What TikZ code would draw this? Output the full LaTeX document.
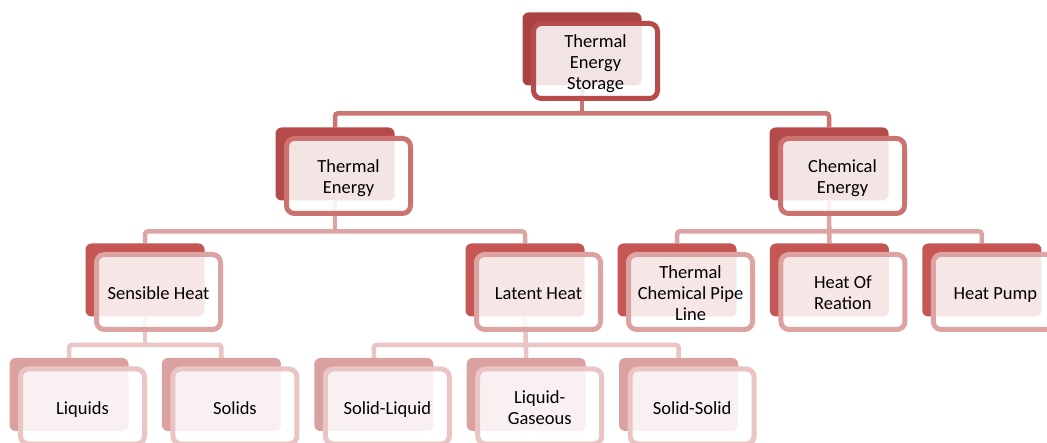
\documentclass[tikz,border=0pt]{standalone}
\usepackage{fontspec}
\setmainfont{Carlito}
\usepackage{xcolor}
\usetikzlibrary{positioning, calc, backgrounds}

\definecolor{backzero}{HTML}{A94442}
\definecolor{edgezero}{HTML}{B84C4B}
\definecolor{linkzero}{HTML}{CB7473}
\definecolor{backone}{HTML}{B54B49}
\definecolor{edgeone}{HTML}{CC7371}
\definecolor{linkone}{HTML}{DCA4A3}
\definecolor{backtwo}{HTML}{C55653}
\definecolor{edgetwo}{HTML}{DDA3A2}
\definecolor{linktwo}{HTML}{E9C5C4}
\definecolor{backthree}{HTML}{DAA1A0}
\definecolor{edgethree}{HTML}{EAC5C4}

\begin{document}
\begin{tikzpicture}[
    x=1pt, y=-1pt,
    backbox/.style={rectangle, rounded corners=6pt, minimum width=119pt, minimum height=73pt, inner sep=0pt},
    frontbox/.style={rectangle, rounded corners=8pt, line width=5pt, fill=white, fill opacity=0.86, text opacity=1, minimum width=124pt, minimum height=75pt, text width=116pt, align=flush center, inner sep=2pt, font=\fontsize{18.5}{21}\selectfont, execute at begin node={\rule{0pt}{20pt}}, execute at end node={\rule[-5pt]{0pt}{5pt}}},
    link/.style={line width=4.5pt, rounded corners=3pt}
]
\useasboundingbox (0,0) rectangle (1047,443);

% level 0
\node[backbox, fill=backzero] (tes) at (582,49) {};
\node[frontbox, draw=edgezero] (tes-f) at ([shift={(13.5,12)}]tes.center) {Thermal\\Energy\\Storage};

% level 1
\node[backbox, fill=backone] (te) at (335,164) {};
\node[frontbox, draw=edgeone] (te-f) at ([shift={(13.5,12)}]te.center) {Thermal\\Energy};
\node[backbox, fill=backone] (ce) at (829,164) {};
\node[frontbox, draw=edgeone] (ce-f) at ([shift={(13.5,12)}]ce.center) {Chemical\\Energy};

% level 2
\node[backbox, fill=backtwo] (sh) at (145,280) {};
\node[frontbox, draw=edgetwo] (sh-f) at ([shift={(13.5,12)}]sh.center) {Sensible Heat};
\node[backbox, fill=backtwo] (lh) at (525,280) {};
\node[frontbox, draw=edgetwo] (lh-f) at ([shift={(13.5,12)}]lh.center) {Latent Heat};
\node[backbox, fill=backtwo] (tcp) at (677,280) {};
\node[frontbox, draw=edgetwo] (tcp-f) at ([shift={(13.5,12)}]tcp.center) {Thermal\\Chemical Pipe\\Line};
\node[backbox, fill=backtwo, right=33pt of tcp] (hor) {};
\node[frontbox, draw=edgetwo] (hor-f) at ([shift={(13.5,12)}]hor.center) {Heat Of\\Reation};
\node[backbox, fill=backtwo, right=33pt of hor] (hp) {};
\node[frontbox, draw=edgetwo] (hp-f) at ([shift={(13.5,12)}]hp.center) {Heat Pump};

% level 3
\node[backbox, fill=backthree] (liq) at (69,394.5) {};
\node[frontbox, draw=edgethree] (liq-f) at ([shift={(13.5,12)}]liq.center) {Liquids};
\node[backbox, fill=backthree, right=33pt of liq] (sol) {};
\node[frontbox, draw=edgethree] (sol-f) at ([shift={(13.5,12)}]sol.center) {Solids};
\node[backbox, fill=backthree, right=33pt of sol] (sl) {};
\node[frontbox, draw=edgethree] (sl-f) at ([shift={(13.5,12)}]sl.center) {Solid-Liquid};
\node[backbox, fill=backthree, right=33pt of sl] (lg) {};
\node[frontbox, draw=edgethree] (lg-f) at ([shift={(13.5,12)}]lg.center) {Liquid-\\Gaseous};
\node[backbox, fill=backthree, right=33pt of lg] (ss) {};
\node[frontbox, draw=edgethree] (ss-f) at ([shift={(13.5,12)}]ss.center) {Solid-Solid};

% connectors
\begin{scope}[on background layer]
\draw[link, draw=linkzero] (tes.south) -- ($(tes.south |- te.north)+(0,-14)$);
\draw[link, draw=linkzero] (te.north) -- ++(0,-14) -| (ce.north);
\draw[link, draw=linkone] (te.south) -- ($(te.south |- sh.north)+(0,-12)$);
\draw[link, draw=linkone] (sh.north) -- ++(0,-12) -| (lh.north);
\draw[link, draw=linkone] (ce.south) -- (hor.north);
\draw[link, draw=linkone] (tcp.north) -- ++(0,-12) -| (hp.north);
\draw[link, draw=linktwo] (sh.south) -- ($(sh.south |- liq.north)+(0,-13)$);
\draw[link, draw=linktwo] (liq.north) -- ++(0,-13) -| (sol.north);
\draw[link, draw=linktwo] (lh.south) -- (lg.north);
\draw[link, draw=linktwo] (sl.north) -- ++(0,-13) -| (ss.north);
\end{scope}

\end{tikzpicture}
\end{document}
